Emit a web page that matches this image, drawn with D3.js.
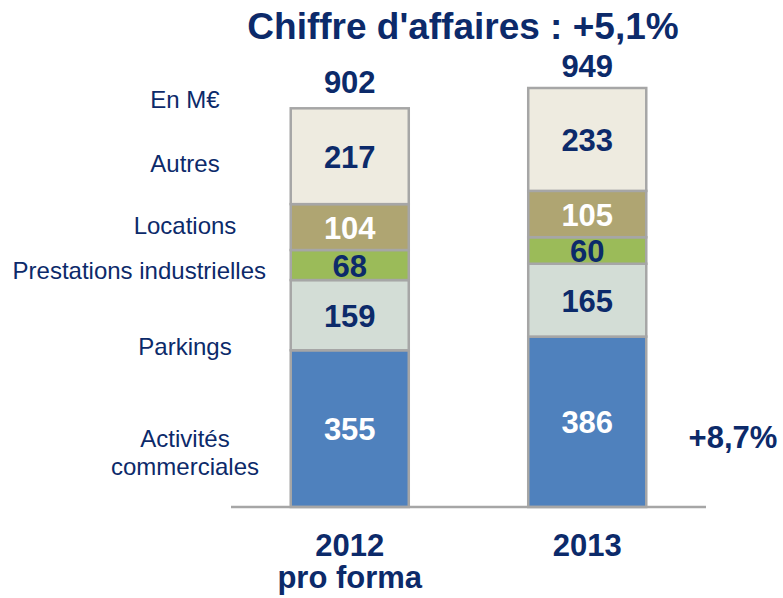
<!DOCTYPE html>
<html>
<head>
<meta charset="utf-8">
<script src="https://cdn.jsdelivr.net/npm/d3@7"></script>
<style>
  body { margin: 0; background: #fff; }
  text { font-family: "Liberation Sans", Arial, sans-serif; }
</style>
</head>
<body>
<svg id="chart"></svg>
<script>
// data
const years = ["2012", "2013"];
const yearLabels = [["2012", "pro forma"], ["2013"]];
const categories = ["Activités commerciales", "Parkings", "Prestations industrielles", "Locations", "Autres"];
const values2012 = [355, 159, 68, 104, 217];
const values2013 = [386, 165, 60, 105, 233];
const totals = [902, 949];
const title = "Chiffre d'affaires : +5,1%";
const growthLabel = "+8,7%";
const unitLabel = "En M€";

const width = 783, height = 598;
const navy = "#0c2a6a";
const border = "#a6a6a6";

// colours per category, bottom to top
const colors = ["#4f81bd", "#d3ddd6", "#9bbb59", "#afa572", "#eeebe0"];
const labelColors = ["#fff", navy, navy, "#fff", navy];
// gap between bar top and its total label
const totalGap = [16, 11];

const svg = d3.select("#chart").attr("width", width).attr("height", height);

const x = d3.scaleBand()
  .domain(years)
  .range([231, 706])
  .paddingInner(0.503)
  .paddingOuter(0.2515);

const y = d3.scaleLinear().domain([0, 949]).range([507, 88]);

// stack the two series
const rows = years.map((yr, i) => {
  const vals = i === 0 ? values2012 : values2013;
  const row = { year: yr };
  categories.forEach((c, j) => (row[c] = vals[j]));
  return row;
});
const stacked = d3.stack().keys(categories)(rows);

const layer = svg.selectAll("g.layer")
  .data(stacked)
  .enter()
  .append("g")
  .attr("class", "layer");

layer.selectAll("rect")
  .data((d) => d.map((p) => ({ p, key: d.key, idx: d.index })))
  .enter()
  .append("rect")
  .attr("x", (d) => x(d.p.data.year))
  .attr("y", (d) => y(d.p[1]))
  .attr("width", x.bandwidth())
  .attr("height", (d) => y(d.p[0]) - y(d.p[1]))
  .attr("fill", (d) => colors[d.idx])
  .attr("stroke", border)
  .attr("stroke-width", 2.5);

// segment values
layer.selectAll("text")
  .data((d) => d.map((p) => ({ p, idx: d.index })))
  .enter()
  .append("text")
  .attr("x", (d) => x(d.p.data.year) + x.bandwidth() / 2)
  .attr("y", (d) => (y(d.p[0]) + y(d.p[1])) / 2)
  .attr("dy", "0.37em")
  .attr("text-anchor", "middle")
  .attr("font-size", 31)
  .attr("font-weight", "bold")
  .attr("fill", (d) => labelColors[d.idx])
  .text((d) => d.p[1] - d.p[0]);

// baseline
svg.append("line")
  .attr("x1", x.range()[0])
  .attr("x2", x.range()[1])
  .attr("y1", y(0))
  .attr("y2", y(0))
  .attr("stroke", border)
  .attr("stroke-width", 2.5);

// totals above bars
svg.selectAll("text.total")
  .data(years)
  .enter()
  .append("text")
  .attr("class", "total")
  .attr("x", (d) => x(d) + x.bandwidth() / 2)
  .attr("y", (d, i) => y(totals[i]) - totalGap[i])
  .attr("text-anchor", "middle")
  .attr("font-size", 31)
  .attr("font-weight", "bold")
  .attr("fill", navy)
  .text((d, i) => totals[i]);

// year labels
const yl = svg.selectAll("text.year")
  .data(years)
  .enter()
  .append("text")
  .attr("class", "year")
  .attr("text-anchor", "middle")
  .attr("font-size", 31)
  .attr("font-weight", "bold")
  .attr("fill", navy);
yl.selectAll("tspan")
  .data((d, i) => yearLabels[i].map((t) => ({ t, d })))
  .enter()
  .append("tspan")
  .attr("x", (d) => x(d.d) + x.bandwidth() / 2)
  .attr("y", (d, j) => 556 + j * 32)
  .text((d) => d.t);

// title
svg.append("text")
  .attr("x", 463)
  .attr("y", 39)
  .attr("text-anchor", "middle")
  .attr("font-size", 37)
  .attr("font-weight", "bold")
  .attr("fill", navy)
  .text(title);

// growth label
svg.append("text")
  .attr("x", 733)
  .attr("y", 448)
  .attr("text-anchor", "middle")
  .attr("font-size", 31)
  .attr("font-weight", "bold")
  .attr("fill", navy)
  .text(growthLabel);

// category labels on the left
const legendItems = [
  { lines: [unitLabel], y: 108, x: 185, anchor: "middle" },
  { lines: [categories[4]], y: 172, x: 185, anchor: "middle" },
  { lines: [categories[3]], y: 234, x: 185, anchor: "middle" },
  { lines: [categories[2]], y: 279, x: 266, anchor: "end" },
  { lines: [categories[1]], y: 355, x: 185, anchor: "middle" },
  { lines: ["Activités", "commerciales"], y: 447, x: 185, anchor: "middle" },
];
const lg = svg.selectAll("text.cat")
  .data(legendItems)
  .enter()
  .append("text")
  .attr("class", "cat")
  .attr("text-anchor", (d) => d.anchor)
  .attr("font-size", 24)
  .attr("fill", navy);
lg.selectAll("tspan")
  .data((d) => d.lines.map((t, j) => ({ t, j, d })))
  .enter()
  .append("tspan")
  .attr("x", (d) => d.d.x)
  .attr("y", (d) => d.d.y + d.j * 28)
  .text((d) => d.t);
</script>
</body>
</html>
